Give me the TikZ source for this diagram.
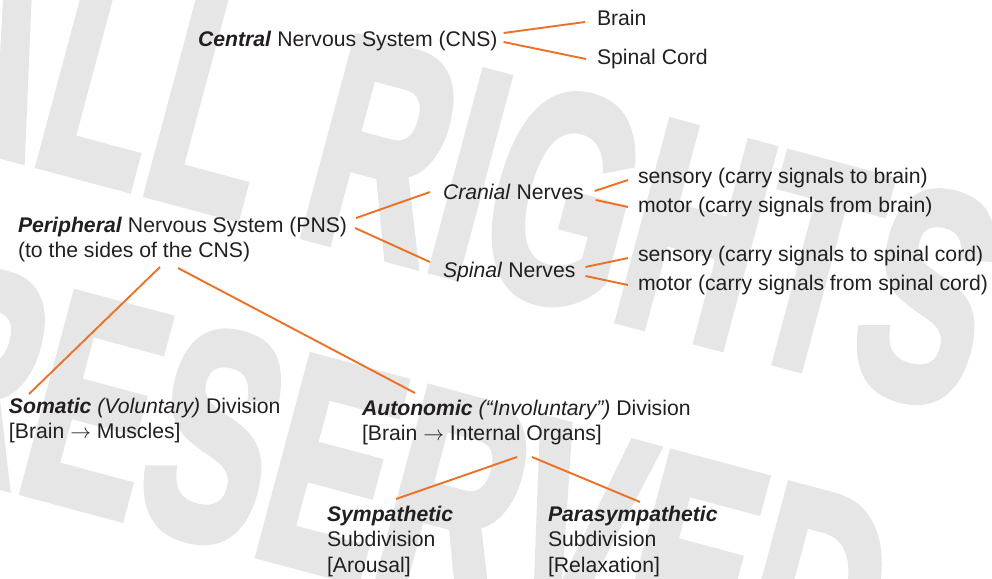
\documentclass[tikz,border=0pt]{standalone}
\usepackage{fontspec}
\setmainfont{Liberation Sans}
\newfontfamily\wmfont{Liberation Sans}[BoldFeatures={FakeBold=3}]
\usetikzlibrary{calc}
\definecolor{orng}{RGB}{236,113,38}
\definecolor{ink}{RGB}{35,31,32}
\definecolor{wmgray}{RGB}{230,230,230}
\newcommand{\mlines}[1]{\begin{tabular}[t]{@{}l@{}}#1\end{tabular}}
\newcommand{\bfit}[1]{\textbf{\textit{#1}}}
\begin{document}
\begin{tikzpicture}[x=1pt,y=-1pt,
  lbl/.style={anchor=base west, inner sep=0pt, outer sep=0pt, text=ink,
    font=\fontsize{21.2}{25.8}\selectfont},
  link/.style={draw=orng, line width=1.9pt},
  wmark/.style={anchor=base west, inner sep=0pt, outer sep=0pt, text=wmgray,
    font=\fontsize{286}{300}\selectfont\wmfont\bfseries}]
\path[use as bounding box] (0,0) rectangle (992,578);
% watermark
\begin{scope}
\clip (0,0) rectangle (992,578);
\begin{scope}[shift={(-101,127)}, rotate=-15, xscale=0.64, yscale=1.04, transform shape]
\node[wmark] (wmA) at (0,0) {ALL RIGHTS};
\end{scope}
\begin{scope}[shift={(-117,454)}, rotate=-15, xscale=0.64, yscale=1.04, transform shape]
\node[wmark] (wmB) at (0,0) {RESERVED};
\end{scope}
\end{scope}
% nodes
\node[lbl] (cns) at (198,46) {\bfit{Central} Nervous System (CNS)};
\node[lbl] (brain) at (597,26) {Brain};
\node[lbl] (spcord) at (597,64) {Spinal Cord};
\node[lbl] (pns) at (18,232) {\mlines{\bfit{Peripheral} Nervous System (PNS)\\(to the sides of the CNS)}};
\node[lbl] (cranial) at (443,199) {\textit{Cranial} Nerves};
\node[lbl] (spinal) at (443,277) {\textit{Spinal} Nerves};
\node[lbl] (cs) at (638,183) {sensory (carry signals to brain)};
\node[lbl] (cm) at (638,212) {motor (carry signals from brain)};
\node[lbl] (ss) at (638,261) {sensory (carry signals to spinal cord)};
\node[lbl] (sm) at (638,290) {motor (carry signals from spinal cord)};
\node[lbl] (somatic) at (9,413) {\mlines{\bfit{Somatic} \textit{(Voluntary)} Division\\{}[Brain $\rightarrow$ Muscles]}};
\node[lbl] (autonomic) at (362,415) {\mlines{\bfit{Autonomic} \textit{(“Involuntary”)} Division\\{}[Brain $\rightarrow$ Internal Organs]}};
\node[lbl] (symp) at (327,521) {\mlines{\bfit{Sympathetic}\\Subdivision\\{}[Arousal]}};
\node[lbl] (para) at (548,521) {\mlines{\bfit{Parasympathetic}\\Subdivision\\{}[Relaxation]}};
% connectors
\draw[link] ($(cns.base east)+(6,-13)$) -- ($(brain.base west)+(-12,-4)$);
\draw[link] ($(cns.base east)+(6,-4)$) -- ($(spcord.base west)+(-11,-5)$);
\draw[link] ($(pns.base east)+(9,-14)$) -- ($(cranial.base west)+(-13,-7)$);
\draw[link] ($(pns.base east)+(8,-4)$) -- ($(spinal.base west)+(-13,-15)$);
\draw[link] ($(cranial.base east)+(11,-8)$) -- ($(cs.base west)+(-10,-3)$);
\draw[link] ($(cranial.base east)+(12,1)$) -- ($(cm.base west)+(-10,-5)$);
\draw[link] ($(spinal.base east)+(10,-10)$) -- ($(ss.base west)+(-10,-3)$);
\draw[link] ($(spinal.base east)+(10,-1)$) -- ($(sm.base west)+(-10,-5)$);
\draw[link] ($(pns.base west)+(142,35)$) -- ($(somatic.base west)+(20,-19)$);
\draw[link] ($(pns.base west)+(160,36)$) -- ($(autonomic.base west)+(53,-22)$);
\draw[link] ($(autonomic.base west)+(155,42)$) -- ($(symp.base west)+(69,-22)$);
\draw[link] ($(autonomic.base west)+(170,42)$) -- ($(para.base west)+(92,-19)$);
\end{tikzpicture}
\end{document}
